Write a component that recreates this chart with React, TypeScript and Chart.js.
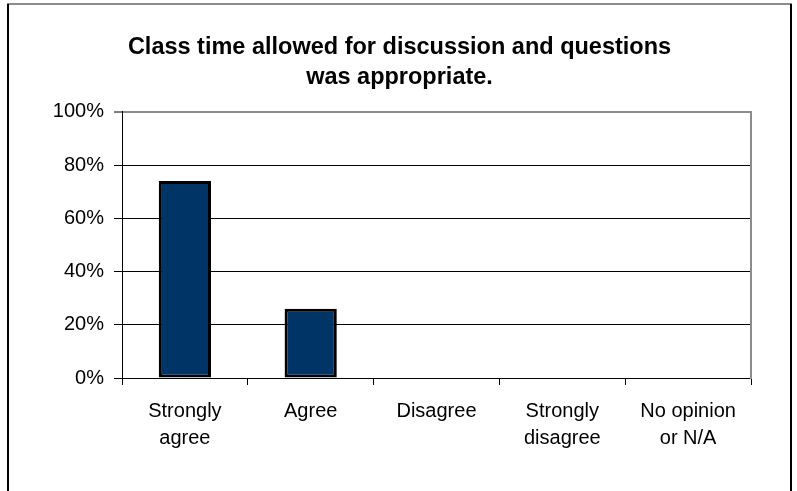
import React, { useEffect, useRef } from "react";
import { Chart, registerables } from "chart.js";

Chart.register(...registerables);

const titleLines = ["Class time allowed for discussion and questions", "was appropriate."];
const categories = [["Strongly", "agree"], ["Agree"], ["Disagree"], ["Strongly", "disagree"], ["No opinion", "or N/A"]];
const values = [74, 26, 0, 0, 0];
const yMin = 0;
const yMax = 100;
const yStep = 20;

const FONT = 'Arial, "Liberation Sans", sans-serif';

const framePlugin = {
  id: "frame",
  afterDraw(chart: any) {
    const ctx = chart.ctx;
    ctx.save();
    ctx.fillStyle = "#8c8c8c";
    ctx.fillRect(7, 3, 785, 2);
    ctx.fillStyle = "#000";
    ctx.fillRect(7, 4, 2, 500);
    ctx.fillRect(790, 4, 2, 500);
    ctx.restore();
  },
};

export default function App() {
  const ref = useRef<HTMLCanvasElement>(null);
  useEffect(() => {
    if (!ref.current) return;
    Chart.defaults.font.family = FONT;
    const chart = new Chart(ref.current, {
      type: "bar",
      data: {
        labels: categories,
        datasets: [
          {
            data: values,
            backgroundColor: "#003366",
            borderColor: "#000",
            borderWidth: 3,
            borderSkipped: false,
            categoryPercentage: 1,
            barPercentage: 0.415,
          },
        ],
      },
      options: {
        responsive: false,
        animation: false,
        layout: { padding: { left: 8, right: 6, top: 0, bottom: 0 } },
        plugins: {
          legend: { display: false },
          tooltip: { enabled: false },
          title: {
            display: true,
            text: titleLines,
            color: "#000",
            font: { family: FONT, size: 23.5, weight: "bold", lineHeight: 1.25 },
            padding: { top: 33, bottom: 20 },
          },
        },
        scales: {
          x: {
            offset: true,
            grid: {
              offset: true,
              drawOnChartArea: false,
              drawTicks: true,
              tickLength: 7,
              color: "#000",
            },
            border: { color: "#000", width: 1 },
            ticks: {
              color: "#000",
              font: { family: FONT, size: 20, lineHeight: 1.35 },
              padding: 13,
              maxRotation: 0,
              autoSkip: false,
            },
            afterFit: (s: any) => {
              s.height = 113;
            },
          },
          y: {
            min: yMin,
            max: yMax,
            grid: {
              color: (c: any) => (c.tick && c.tick.value === yMax ? "#8c8c8c" : "#000"),
              lineWidth: (c: any) => (c.tick && c.tick.value === yMax ? 2 : 1),
              tickColor: "#000",
              tickWidth: 1,
              tickLength: 8,
            },
            border: { color: "#000", width: 1 },
            ticks: {
              stepSize: yStep,
              color: "#000",
              font: { family: FONT, size: 20 },
              padding: 10,
              callback: (v: any) => v + "%",
            },
            afterFit: (s: any) => {
              s.width = 114;
            },
          },
          y2: {
            position: "right",
            min: yMin,
            max: yMax,
            grid: { display: false, drawOnChartArea: false },
            border: { display: true, color: "#8c8c8c", width: 2 },
            ticks: { display: false },
            afterFit: (s: any) => {
              s.width = 40;
            },
          },
        },
      },
      plugins: [framePlugin],
    });
    return () => chart.destroy();
  }, []);
  return (
    <div style={{ position: "fixed", left: 0, top: 0, width: 797, height: 491, background: "#fff" }}>
      <canvas ref={ref} width={797} height={491} style={{ display: "block" }} />
    </div>
  );
}
